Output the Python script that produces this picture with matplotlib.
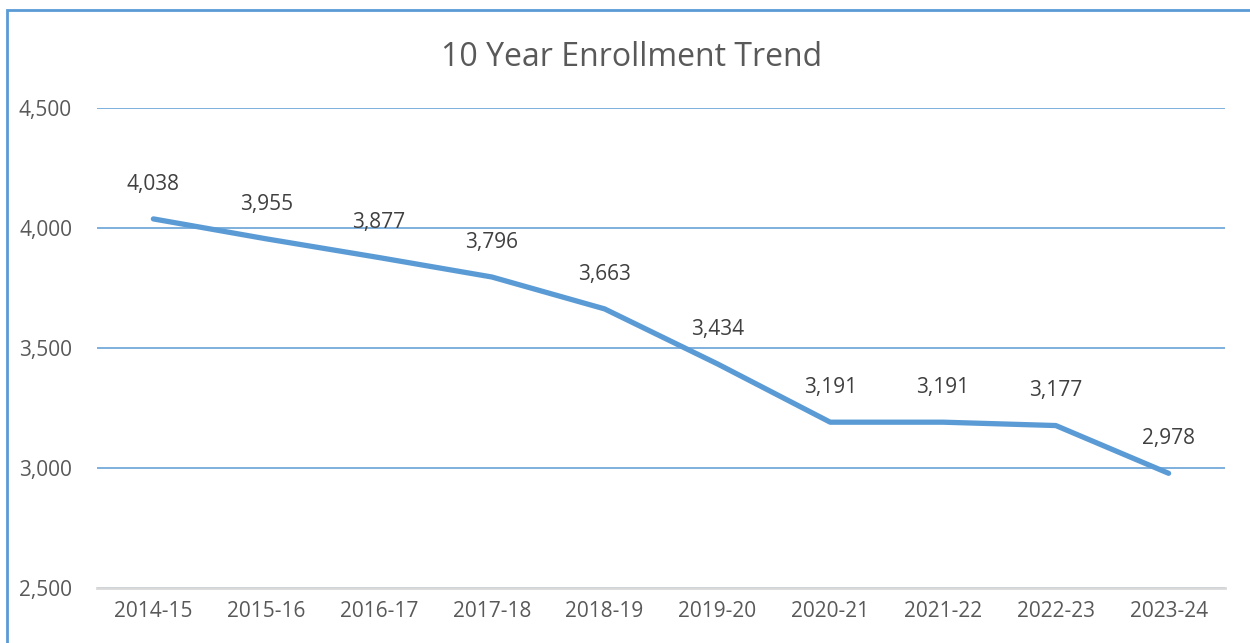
import matplotlib.pyplot as plt
from matplotlib.patches import Rectangle
from matplotlib.ticker import FuncFormatter

years = ['2014-15', '2015-16', '2016-17', '2017-18', '2018-19',
         '2019-20', '2020-21', '2021-22', '2022-23', '2023-24']
enrollment = [4038, 3955, 3877, 3796, 3663, 3434, 3191, 3191, 3177, 2978]
y_ticks = [2500, 3000, 3500, 4000, 4500]

blue = '#5B9BD5'
text_color = '#595959'
label_color = '#404040'

plt.rcParams['font.family'] = ['Open Sans', 'DejaVu Sans']

fig = plt.figure(figsize=(12.5, 6.43), dpi=100)
ax = fig.add_axes([0.0776, 0.0855, 0.9024, 0.7465])

x = list(range(len(years)))
ax.plot(x, enrollment, color=blue, linewidth=3.8, solid_capstyle='round',
        solid_joinstyle='round', zorder=3)

for xi, v in zip(x, enrollment):
    ax.annotate(f'{v:,}', (xi, v), xytext=(0, 25), textcoords='offset points',
                ha='center', va='center', fontsize=15, color=label_color)

ax.set_xlim(-0.5, len(years) - 0.5)
ax.set_ylim(2500, 4500)
ax.set_yticks(y_ticks)
ax.yaxis.set_major_formatter(FuncFormatter(lambda v, p: f'{int(v):,}'))
ax.set_xticks(x)
ax.set_xticklabels(years)
ax.tick_params(axis='both', length=0, labelsize=15, labelcolor=text_color)
ax.tick_params(axis='y', pad=18)
ax.tick_params(axis='x', pad=9)

ax.grid(axis='y', color=blue, linewidth=1.1)
ax.set_axisbelow(True)
for side in ['top', 'right', 'left']:
    ax.spines[side].set_visible(False)
ax.spines['bottom'].set_color('#D9D9D9')
ax.spines['bottom'].set_linewidth(2)
ax.spines['bottom'].set_zorder(2)

fig.text(0.505, 0.91, '10 Year Enrollment Trend', ha='center', va='center',
         fontsize=23, color=text_color)

# chart frame
fig.patches.append(Rectangle((7 / 1250, -0.1), 1.2, 1 - 10 / 643 + 0.1,
                             transform=fig.transFigure, fill=False,
                             edgecolor=blue, linewidth=2))

fig.savefig('out.png', dpi=100)
